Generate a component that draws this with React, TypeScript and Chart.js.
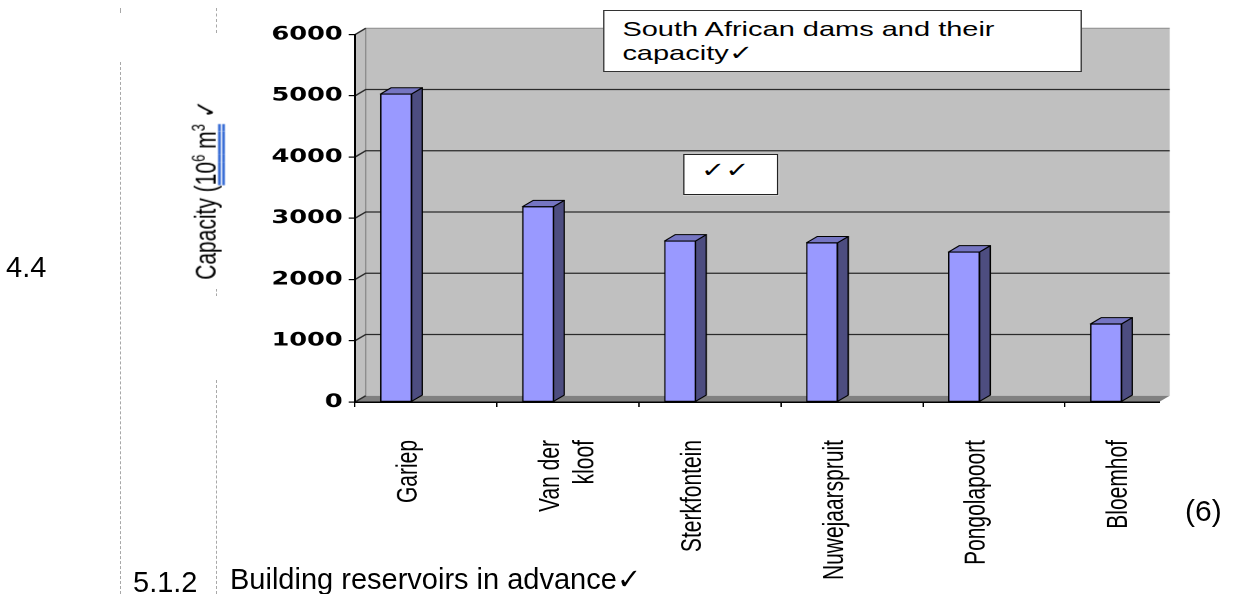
import { useEffect, useRef } from "react";
import { Chart, registerables } from "chart.js";

Chart.register(...registerables);

// ---------- data ----------
const categories: (string | string[])[] = [
  "Gariep",
  ["Van der", "kloof"],
  "Sterkfontein",
  "Nuwejaarspruit",
  "Pongolapoort",
  "Bloemhof",
];
const capacities = [5030, 3190, 2630, 2600, 2450, 1275];
const yMin = 0;
const yMax = 6000;
const yStep = 1000;
const titleLines = ["South African dams and their", "capacity\u2713"];

// ---------- layout (chart picture is stretched horizontally in the scan) ----------
const S = 1.38;
const W0 = 1238 / S;
const H = 594;
const AXIS_LEFT = 355 / S;
const PLOT_RIGHT = 1159 / S;
const CAT_W = 142 / S;
const X_MAX = (PLOT_RIGHT - AXIS_LEFT) / CAT_W;
const BAR_SHIFT = 0.289;
const DX = 7.75;
const DY = -6.3;

const WALL = "#C0C0C0";
const FLOOR = "#808080";
const FACE = "#9999FF";
const TOPC = "#7575C2";
const SIDE = "#4D4D80";

const threeD = {
  id: "threeD",
  beforeDraw(chart: any) {
    const { ctx, chartArea: a, scales } = chart;
    const y = scales.y;
    const top = y.getPixelForValue(yMax);
    const bot = y.getPixelForValue(yMin);
    ctx.save();
    ctx.fillStyle = WALL;
    ctx.fillRect(a.left + DX, top + DY, a.right - a.left, bot - top);
    ctx.beginPath();
    ctx.moveTo(a.left, top);
    ctx.lineTo(a.left + DX, top + DY);
    ctx.lineTo(a.left + DX, bot + DY);
    ctx.lineTo(a.left, bot);
    ctx.closePath();
    ctx.fill();
    ctx.fillStyle = FLOOR;
    ctx.beginPath();
    ctx.moveTo(a.left, bot);
    ctx.lineTo(a.left + DX, bot + DY);
    ctx.lineTo(a.right + DX, bot + DY);
    ctx.lineTo(a.right, bot);
    ctx.closePath();
    ctx.fill();
    ctx.strokeStyle = "#8e8e8e";
    ctx.lineWidth = 1;
    ctx.beginPath();
    ctx.moveTo(a.left + DX, bot + DY);
    ctx.lineTo(a.left + DX, top + DY);
    ctx.lineTo(a.right + DX, top + DY);
    ctx.stroke();
    ctx.strokeStyle = "#2a2a2a";
    ctx.lineWidth = 1.3;
    for (const t of y.ticks) {
      const py = y.getPixelForValue(t.value);
      ctx.beginPath();
      ctx.moveTo(a.left, py);
      ctx.lineTo(a.left + DX, py + DY);
      if (t.value > yMin && t.value < yMax) ctx.lineTo(a.right + DX, py + DY);
      ctx.stroke();
    }
    ctx.restore();
  },
  afterDatasetsDraw(chart: any) {
    const { ctx } = chart;
    const meta = chart.getDatasetMeta(0);
    ctx.save();
    ctx.strokeStyle = "#000";
    ctx.lineWidth = 1;
    ctx.lineJoin = "round";
    for (const el of meta.data) {
      const { x, y, base, width } = el.getProps(["x", "y", "base", "width"], true);
      const l = x - width / 2;
      const r = x + width / 2;
      ctx.fillStyle = SIDE;
      ctx.beginPath();
      ctx.moveTo(r, y);
      ctx.lineTo(r + DX, y + DY);
      ctx.lineTo(r + DX, base + DY);
      ctx.lineTo(r, base);
      ctx.closePath();
      ctx.fill();
      ctx.stroke();
      ctx.fillStyle = TOPC;
      ctx.beginPath();
      ctx.moveTo(l, y);
      ctx.lineTo(l + DX, y + DY);
      ctx.lineTo(r + DX, y + DY);
      ctx.lineTo(r, y);
      ctx.closePath();
      ctx.fill();
      ctx.stroke();
    }
    ctx.restore();
  },
};

const dashes = [
  { x: 120, y1: 8, y2: 13 },
  { x: 120, y1: 62, y2: 594 },
  { x: 216, y1: 8, y2: 33 },
  { x: 216, y1: 289, y2: 296 },
  { x: 216, y1: 380, y2: 594 },
];

const textFont = "'Liberation Sans', Arial, sans-serif";

export default function App() {
  const ref = useRef<HTMLCanvasElement>(null);

  useEffect(() => {
    const chart = new Chart(ref.current!, {
      type: "bar",
      data: {
        datasets: [
          {
            data: capacities.map((v, i) => ({ x: i + BAR_SHIFT, y: v })),
            backgroundColor: FACE,
            borderColor: "#000",
            borderWidth: 1,
            borderSkipped: false,
            barThickness: 31 / S,
          },
        ],
      },
      options: {
        responsive: true,
        maintainAspectRatio: false,
        animation: false,
        devicePixelRatio: 2,
        events: [],
        layout: { padding: { left: 0, right: W0 - PLOT_RIGHT, top: 34.6, bottom: 0 } },
        plugins: {
          legend: { display: false },
          tooltip: { enabled: false },
          title: { display: false },
        },
        scales: {
          x: {
            type: "linear",
            min: 0,
            max: X_MAX,
            offset: false,
            afterFit: (s: any) => {
              s.height = H - 402;
            },
            grid: {
              offset: false,
              drawOnChartArea: false,
              drawTicks: true,
              tickLength: 5,
              color: "#000",
              lineWidth: 1,
            },
            border: { display: true, color: "#000", width: 1.5 },
            ticks: {
              stepSize: 1,
              includeBounds: false,
              autoSkip: false,
              minRotation: 90,
              maxRotation: 90,
              labelOffset: 0.38 * CAT_W,
              padding: 33,
              color: "#000",
              font: { family: "'Liberation Sans', Arial, sans-serif", size: 21 },
              callback: (v: any) => (categories[v as number] ?? "") as any,
            },
          },
          y: {
            min: yMin,
            max: yMax,
            afterFit: (s: any) => {
              s.width = AXIS_LEFT;
            },
            grid: {
              drawOnChartArea: false,
              drawTicks: true,
              tickLength: 4.5,
              color: "#000",
              lineWidth: 1.2,
            },
            border: { display: true, color: "#000", width: 1.5 },
            ticks: {
              stepSize: yStep,
              padding: 4.5,
              color: "#000",
              font: { family: "'DejaVu Sans', Verdana, sans-serif", size: 18.5, weight: "bold" },
              callback: (v: any) => String(v),
            },
          },
        },
      },
      plugins: [threeD],
    } as any);
    return () => chart.destroy();
  }, []);

  const docText = (extra: any) => ({
    position: "absolute" as const,
    fontFamily: textFont,
    fontSize: 29,
    lineHeight: "29px",
    whiteSpace: "nowrap" as const,
    color: "#000",
    ...extra,
  });

  return (
    <div
      style={{
        position: "fixed",
        left: 0,
        top: 0,
        width: 1238,
        height: H,
        background: "#fff",
        overflow: "hidden",
      }}
    >
      {dashes.map((d, i) => (
        <div
          key={i}
          style={{
            position: "absolute",
            left: d.x,
            top: d.y1,
            height: d.y2 - d.y1,
            width: 0,
            borderLeft: "1px dashed #a8a8a8",
          }}
        />
      ))}
      <div
        style={{
          position: "absolute",
          left: 0,
          top: 0,
          width: W0,
          height: H,
          transform: `scaleX(${S})`,
          transformOrigin: "0 0",
          fontFamily: textFont,
          color: "#000",
        }}
      >
        <div style={{ position: "absolute", left: 0, top: 0, width: W0, height: H }}>
          <canvas ref={ref} />
        </div>

        {/* title box */}
        <div
          style={{
            position: "absolute",
            left: 437,
            top: 9.5,
            width: 347,
            height: 62,
            boxSizing: "border-box",
            border: "1.5px solid #333",
            background: "#fff",
          }}
        />
        <div
          style={{
            position: "absolute",
            left: 451,
            top: 16.5,
            fontSize: 21,
            lineHeight: "24px",
            whiteSpace: "nowrap",
          }}
        >
          {titleLines.map((t, i) => (
            <div key={i}>{t}</div>
          ))}
        </div>

        {/* tick-mark box */}
        <div
          style={{
            position: "absolute",
            left: 495,
            top: 154,
            width: 69,
            height: 41,
            boxSizing: "border-box",
            border: "1.5px solid #222",
            background: "#fff",
          }}
        />
        <div
          style={{
            position: "absolute",
            left: 508,
            top: 158,
            fontSize: 21,
            lineHeight: "24px",
            letterSpacing: 0,
            fontFamily: "'DejaVu Sans', sans-serif",
            whiteSpace: "nowrap",
          }}
        >
          {"\u2713\u2713"}
        </div>

        {/* y axis title */}
        <div
          style={{
            position: "absolute",
            left: 149,
            top: 190,
            transform: "translate(-50%, -50%) rotate(-90deg)",
            fontSize: 21,
            lineHeight: "24px",
            whiteSpace: "nowrap",
          }}
        >
          Capacity (
          <span style={{ textDecoration: "underline double #3b6fd6" }}>
            10<sup style={{ fontSize: 13, lineHeight: 0, verticalAlign: 8 }}>6</sup> m
            <sup style={{ fontSize: 13, lineHeight: 0, verticalAlign: 8 }}>3</sup>
          </span>{" "}
          {"\u2713"}
        </div>
      </div>

      {/* document text around the chart (not stretched) */}
      <div style={docText({ left: 6, top: 253 })}>4.4</div>
      <div style={docText({ left: 1185, top: 496, fontSize: 30, lineHeight: "30px" })}>(6)</div>
      <div style={docText({ left: 133, top: 568 })}>5.1.2</div>
      <div style={docText({ left: 230, top: 565 })}>Building reservoirs in advance{"\u2713"}</div>
    </div>
  );
}
